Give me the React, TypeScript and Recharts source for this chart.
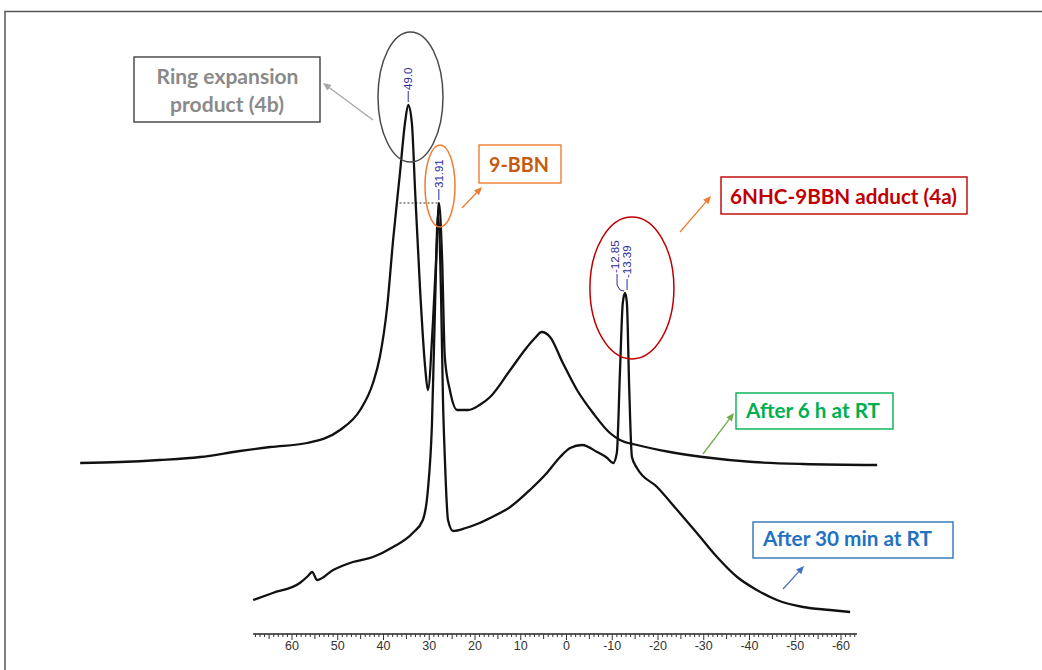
import React from 'react';
import { LineChart, Line, XAxis, YAxis, ReferenceLine, ReferenceDot } from 'recharts';

const WIDTH = 1042;
const HEIGHT = 670;

// 11B NMR, spectrum after 6 h at RT: [ppm, intensity]
const after6h: [number, number][] = [
  [106.3, 171], [97.6, 172], [88.9, 174], [80.1, 177], [71.4, 183], [64.8, 187],
  [56.7, 191], [49.5, 204], [45.1, 224], [42.3, 251], [40.8, 277], [39.2, 327],
  [37.9, 394], [36.4, 461], [35.3, 511], [34.6, 529], [33.8, 511], [33.1, 444],
  [32.0, 344], [30.9, 267], [30.3, 244], [29.2, 311], [28.3, 394], [27.9, 431],
  [27.2, 377], [26.6, 277], [25.5, 244], [23.9, 224], [21.5, 224], [19.0, 229],
  [16.7, 237], [12.3, 264], [8.6, 287], [6.9, 296], [5.4, 302],
  [3.6, 297], [0.8, 271], [-2.3, 244], [-5.8, 221], [-9.5, 201], [-11.7, 194],
  [-15.4, 189], [-22.6, 182], [-29.8, 177], [-40.8, 172], [-51.7, 170], [-67.9, 169],
];

// spectrum after 30 min at RT: [ppm, intensity]
const after30min: [number, number][] = [
  [68.5, 34], [64.2, 41], [58.3, 51], [56.5, 58], [55.6, 62], [54.5, 54],
  [51.0, 64], [46.7, 72], [42.3, 77], [37.9, 87], [33.6, 101], [31.4, 114],
  [30.3, 144], [29.4, 211], [28.7, 334], [28.1, 419], [27.4, 334], [27.0, 234],
  [26.6, 177], [25.9, 114], [24.8, 103], [22.0, 106], [19.0, 111], [16.7, 116],
  [12.3, 127], [8.0, 144], [4.3, 161], [1.4, 177], [-0.8, 186], [-3.4, 189],
  [-6.7, 182], [-8.9, 176], [-10.2, 171], [-11.0, 181], [-11.7, 264], [-12.3, 331],
  [-12.8, 341], [-13.2, 331], [-13.7, 247], [-14.3, 177], [-15.4, 166], [-19.8, 147],
  [-24.2, 124], [-28.5, 101], [-32.9, 77], [-37.3, 57], [-41.6, 44], [-46.0, 34],
  [-51.7, 27], [-57.6, 24], [-62.0, 22],
];

const axisStart = 68.5;
const axisEnd = -63.5;
const tickValues = Array.from({ length: 132 }, (_, i) => 68 - i);

// picked peaks: label text and the peak they belong to
const peakPicks = [
  { text: '49.0', series: 'after6h', ppm: 34.6, dx: 0, bent: false },
  { text: '31.91', series: 'after6h', ppm: 27.9, dx: 0, bent: false },
  { text: '-12.85', series: 'after30min', ppm: -12.8, dx: -10, bent: true },
  { text: '-13.39', series: 'after30min', ppm: -12.8, dx: 2, bent: false },
];

const toRows = (pts: [number, number][]) => pts.map(([ppm, intensity]) => ({ ppm, intensity }));
const seriesRows: Record<string, { ppm: number; intensity: number }[]> = {
  after6h: toRows(after6h),
  after30min: toRows(after30min),
};
const heightAt = (series: string, ppm: number) =>
  seriesRows[series].find((r) => r.ppm === ppm)?.intensity ?? 0;

// circled regions around the peaks (centre in ppm / intensity, radii in px)
const rings = [
  { ppm: 34.1, intensity: 537, rx: 32.5, ry: 65, color: '#4a4a4a' },
  { ppm: 27.65, intensity: 448, rx: 15, ry: 41, color: '#ed7d31' },
  { ppm: -14.3, intensity: 346, rx: 42, ry: 71, color: '#c00000' },
];

const LABEL_FONT = "Lato, 'Open Sans', sans-serif";

function PpmTick(props: any) {
  const { x, y, payload } = props;
  const v = payload.value as number;
  const major = v % 10 === 0;
  const len = major ? 6 : v % 5 === 0 ? 5 : 3;
  return (
    <g>
      <line x1={x} y1={y} x2={x} y2={y + len} stroke="#333" strokeWidth={1} />
      {major && (
        <text
          x={x}
          y={y + 16}
          textAnchor="middle"
          fontSize={12.5}
          fill="#333"
          fontFamily="'Liberation Sans Narrow', 'Liberation Sans', Arial, sans-serif"
        >
          {v}
        </text>
      )}
    </g>
  );
}

function PeakTag({ cx, cy, text, dx, bent }: any) {
  const tx = cx + dx;
  const top = bent ? cy - 19 : cy - 14;
  const lead = bent
    ? `M${cx - 1},${cy - 2} L${cx - 5},${cy - 3} L${tx + 2},${cy - 8} L${tx + 2},${top}`
    : `M${tx},${cy - 3} L${tx},${top}`;
  return (
    <g>
      <path d={lead} fill="none" stroke="#2b2b9b" strokeWidth={1} />
      <text
        x={tx}
        y={top - 1}
        transform={`rotate(-90 ${tx} ${top - 1})`}
        textAnchor="start"
        dominantBaseline="central"
        fontSize={11.5}
        fill="#2b2b9b"
        fontFamily="'Liberation Sans', Arial, sans-serif"
      >
        {text}
      </text>
    </g>
  );
}

function Arrow({ x1, y1, x2, y2, color }: { x1: number; y1: number; x2: number; y2: number; color: string }) {
  const a = Math.atan2(y2 - y1, x2 - x1);
  const len = 8;
  const w = 3.5;
  const bx = x2 - len * Math.cos(a);
  const by = y2 - len * Math.sin(a);
  const p1 = `${bx + w * Math.sin(a)},${by - w * Math.cos(a)}`;
  const p2 = `${bx - w * Math.sin(a)},${by + w * Math.cos(a)}`;
  return (
    <g>
      <line x1={x1} y1={y1} x2={bx} y2={by} stroke={color} strokeWidth={1.3} />
      <polygon points={`${x2},${y2} ${p1} ${p2}`} fill={color} />
    </g>
  );
}

function Callout({ x, y, w, h, border, color, lines }: any) {
  return (
    <g>
      <rect x={x} y={y} width={w} height={h} fill="#fff" stroke={border} strokeWidth={1.4} />
      {lines.map((l: any) => (
        <text
          key={l.t}
          x={l.cx}
          y={l.y}
          textAnchor="middle"
          fontSize={20}
          fontWeight={700}
          fill={color}
          fontFamily={LABEL_FONT}
          textLength={l.len}
          lengthAdjust="spacingAndGlyphs"
        >
          {l.t}
        </text>
      ))}
    </g>
  );
}

export default function App() {
  const bbnTop = heightAt('after6h', 27.9);
  return (
    <div style={{ position: 'absolute', left: 0, top: 0, width: WIDTH, height: HEIGHT, background: '#fff' }}>
      <LineChart width={WIDTH} height={HEIGHT} margin={{ top: 14, right: 155.25, bottom: 6, left: 63.25 }}>
        <XAxis
          type="number"
          dataKey="ppm"
          domain={[-70, 110]}
          reversed
          allowDataOverflow
          ticks={tickValues}
          interval={0}
          axisLine={false}
          tickLine={false}
          tickSize={0}
          tickMargin={0}
          tick={<PpmTick />}
          height={30}
        />
        <YAxis type="number" domain={[0, 620]} allowDataOverflow hide />
        <ReferenceLine
          segment={[{ x: axisStart, y: 0 }, { x: axisEnd, y: 0 }]}
          stroke="#222"
          strokeWidth={1.5}
        />
        <ReferenceLine
          segment={[{ x: 36.5, y: bbnTop }, { x: 27.9, y: bbnTop }]}
          stroke="#333"
          strokeWidth={1}
          strokeDasharray="2 2"
        />
        <Line
          data={seriesRows.after30min}
          dataKey="intensity"
          type="monotoneX"
          stroke="#111"
          strokeWidth={2.3}
          dot={false}
          isAnimationActive={false}
        />
        <Line
          data={seriesRows.after6h}
          dataKey="intensity"
          type="monotoneX"
          stroke="#111"
          strokeWidth={2.3}
          dot={false}
          isAnimationActive={false}
        />
        {rings.map((r, i) => (
          <ReferenceDot
            key={`ring-${i}`}
            x={r.ppm}
            y={r.intensity}
            r={1}
            shape={(p: any) => (
              <ellipse cx={p.cx} cy={p.cy} rx={r.rx} ry={r.ry} fill="none" stroke={r.color} strokeWidth={1.5} />
            )}
          />
        ))}
        {peakPicks.map((pk) => (
          <ReferenceDot
            key={pk.text}
            x={pk.ppm}
            y={heightAt(pk.series, pk.ppm)}
            r={1}
            shape={(p: any) => <PeakTag cx={p.cx} cy={p.cy} text={pk.text} dx={pk.dx} bent={pk.bent} />}
          />
        ))}
      </LineChart>
      <svg
        width={WIDTH}
        height={HEIGHT}
        style={{ position: 'absolute', left: 0, top: 0, pointerEvents: 'none' }}
      >
        <path d="M5,670 V11.5 H1042" fill="none" stroke="#555" strokeWidth={1.5} />
        <Arrow x1={373} y1={120} x2={323} y2={83} color="#a6a6a6" />
        <Arrow x1={462} y1={208} x2={482} y2={187} color="#ed7d31" />
        <Arrow x1={680} y1={232} x2={711} y2={196} color="#ed7d31" />
        <Arrow x1={703} y1={454} x2={734} y2={413} color="#70ad47" />
        <Arrow x1={783} y1={589} x2={804} y2={566} color="#4472c4" />
        <Callout
          x={134} y={57} w={186} h={65} border="#404040" color="#8a8a8a"
          lines={[
            { t: 'Ring expansion', cx: 227.5, y: 84, len: 142 },
            { t: 'product (4b)', cx: 227, y: 112, len: 114 },
          ]}
        />
        <Callout
          x={479} y={145} w={82} h={38} border="#ed7d31" color="#c55a11"
          lines={[{ t: '9-BBN', cx: 519, y: 172, len: 60 }]}
        />
        <Callout
          x={721} y={177} w={246} h={37} border="#c00000" color="#c00000"
          lines={[{ t: '6NHC-9BBN adduct (4a)', cx: 843.5, y: 203.5, len: 227 }]}
        />
        <Callout
          x={736} y={393} w={157} h={36} border="#00b050" color="#00b050"
          lines={[{ t: 'After 6 h at RT', cx: 813, y: 417.5, len: 134 }]}
        />
        <Callout
          x={753} y={522} w={200} h={36} border="#2e75b6" color="#2272c3"
          lines={[{ t: 'After 30 min at RT', cx: 847.5, y: 546, len: 169 }]}
        />
      </svg>
    </div>
  );
}
